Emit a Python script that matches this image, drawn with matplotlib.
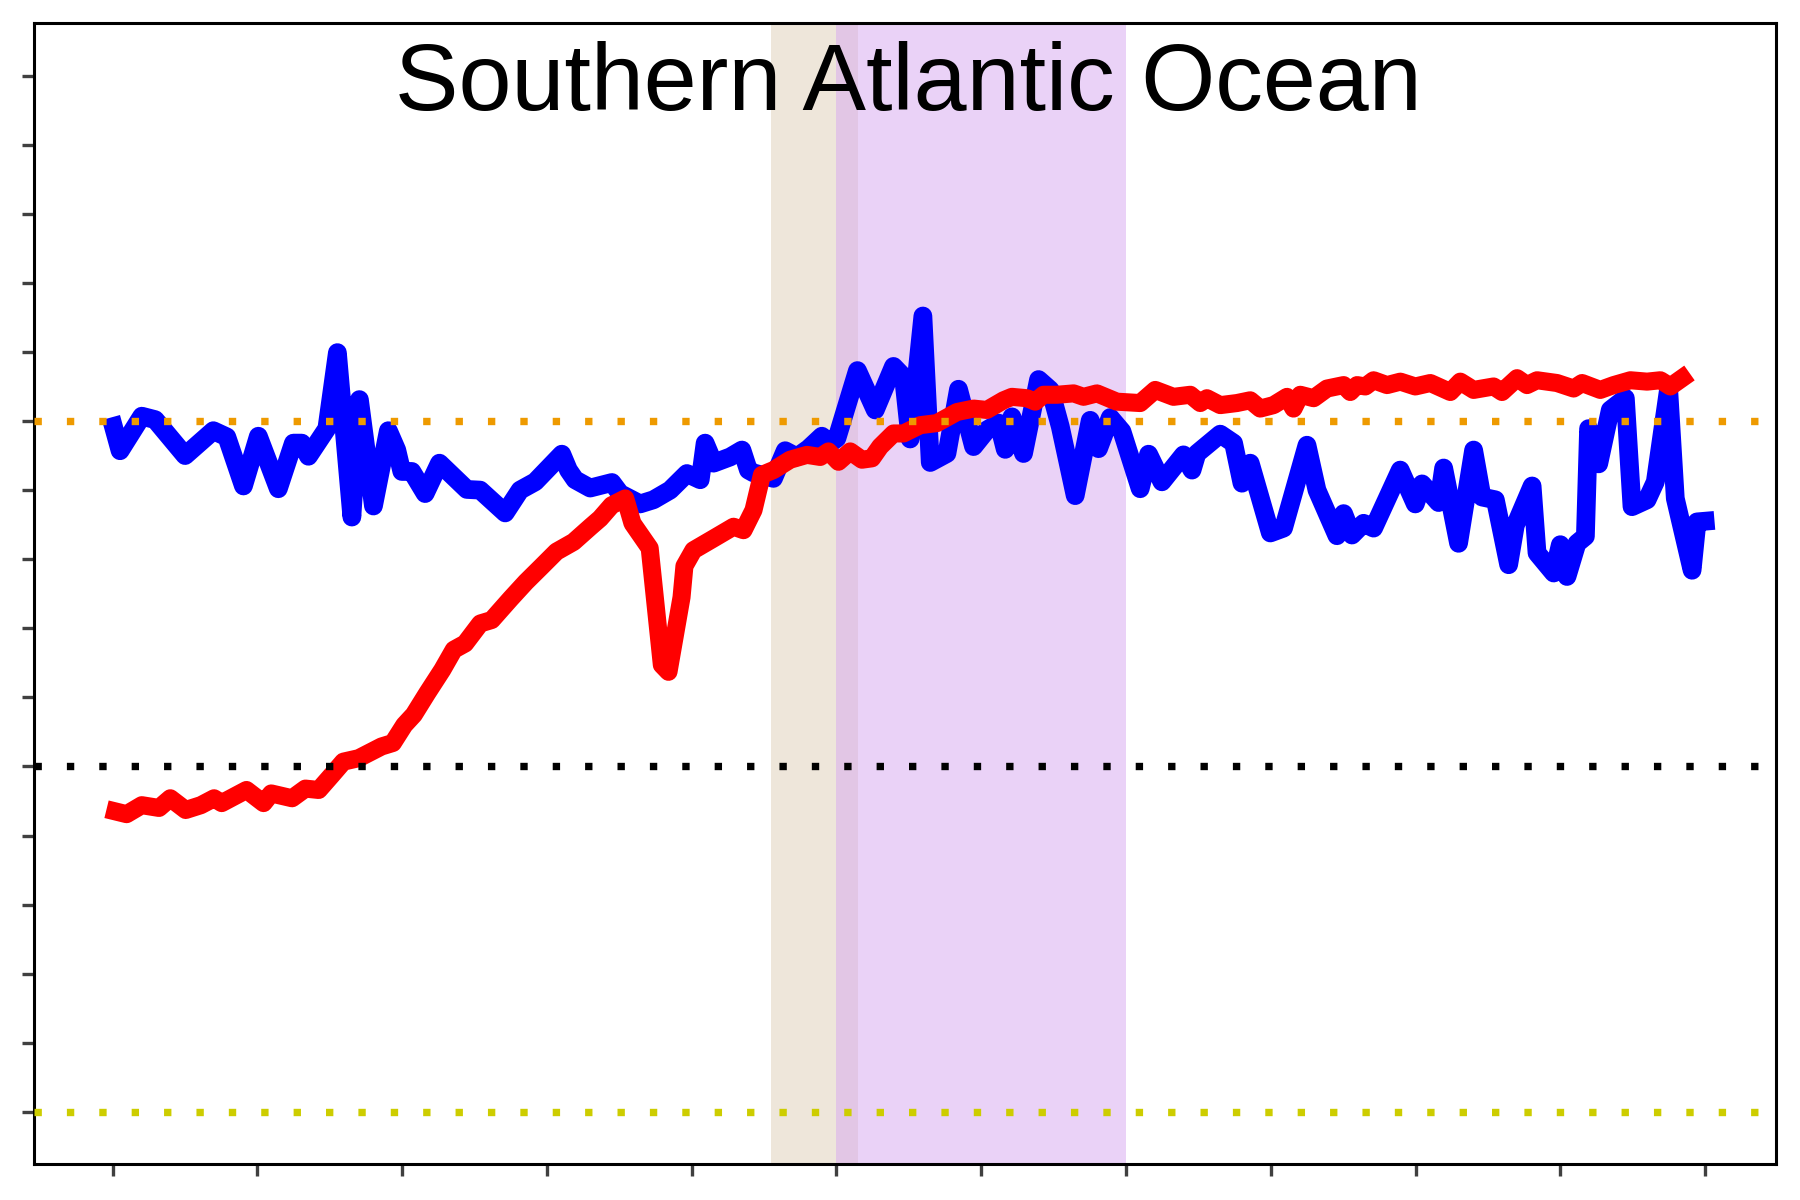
import matplotlib
matplotlib.use('Agg')
import matplotlib.pyplot as plt
import numpy as np

plt.rcParams['font.family'] = ['Liberation Sans', 'DejaVu Sans']

title = 'Southern Atlantic Ocean'

# blue series (x in tick units of 10, y in tick units)
blue_x = [0.06, 0.52, 2.02, 2.94, 5.01, 6.96, 7.89, 9.04, 10.07, 11.45, 12.49, 13.07, 13.53,
          14.80, 15.53, 16.53, 17.05, 18.02, 19.05, 19.63, 19.98, 20.67, 21.59, 22.58, 24.47,
          25.39, 27.12, 28.15, 29.19, 31.03, 31.49, 31.95, 32.99, 34.49, 35.06, 36.44, 37.36,
          38.51, 39.67, 40.59, 40.93, 41.51, 42.66, 43.47, 43.92, 44.27, 45.65, 46.46, 47.27,
          48.07, 48.99, 49.57, 50.03, 51.45, 52.68, 53.94, 54.63, 55.09, 55.97, 56.48, 57.63,
          58.43, 59.47, 60.39, 61.20, 61.66, 62.12, 62.92, 63.96, 64.77, 65.46, 66.49, 67.53,
          68.10, 68.91, 69.72, 70.98, 71.56, 72.48, 73.97, 74.56, 74.90, 76.51, 77.43, 78.01,
          78.58, 79.97, 80.88, 82.50, 83.19, 84.57, 85.03, 85.61, 86.41, 87.10, 88.94, 89.98,
          90.45, 91.59, 91.94, 92.97, 94.01, 94.59, 95.51, 96.43, 96.89, 98.05, 98.39, 99.54,
          100.00, 100.46, 101.15, 101.73, 101.95, 102.65, 103.45, 104.49, 104.95, 105.99,
          106.56, 107.48, 107.94, 109.10, 109.44, 110.0]
blue_y = [9.92, 9.57, 10.07, 10.02, 9.50, 9.86, 9.77, 9.06, 9.78, 9.02, 9.68, 9.68, 9.49,
          9.89, 10.99, 8.61, 10.31, 8.77, 9.86, 9.58, 9.27, 9.27, 8.95, 9.39, 9.01,
          9.00, 8.67, 9.00, 9.12, 9.52, 9.29, 9.15, 9.03, 9.11, 8.95, 8.80, 8.86,
          9.00, 9.24, 9.15, 9.68, 9.39, 9.48, 9.58, 9.29, 9.25, 9.17, 9.57, 9.48,
          9.60, 9.78, 9.68, 9.75, 10.73, 10.16, 10.79, 10.64, 9.74, 11.52, 9.40, 9.53,
          10.46, 9.63, 9.87, 9.97, 9.59, 10.06, 9.53, 10.60, 10.45, 9.92, 8.92, 10.01,
          9.60, 10.05, 9.85, 9.02, 9.52, 9.12, 9.51, 9.29, 9.53, 9.81, 9.68, 9.10,
          9.39, 8.38, 8.45, 9.65, 9.00, 8.34, 8.66, 8.35, 8.52, 8.45, 9.29, 8.80,
          9.09, 8.82, 9.32, 8.23, 9.58, 8.90, 8.86, 7.92, 8.49, 9.06, 8.09, 7.80,
          8.21, 7.75, 8.23, 8.33, 9.89, 9.38, 10.16, 10.33, 8.76, 8.86,
          9.12, 10.47, 8.88, 7.84, 8.54, 8.55]

# red series
red_x = [0.19, 0.97, 2.02, 3.21, 3.99, 5.05, 6.10, 7.01, 7.54, 9.25, 10.43, 10.96, 12.40,
         13.32, 14.24, 15.16, 15.94, 17.00, 18.58, 19.36, 20.15, 20.81, 21.73, 22.78, 23.57,
         24.35, 25.40, 26.19, 27.50, 28.55, 29.61, 30.66, 31.84, 33.02, 33.68, 34.47, 35.41,
         35.91, 37.10, 37.94, 38.40, 39.30, 39.50, 40.12, 41.51, 42.89, 43.58, 44.27, 44.85,
         45.65, 46.80, 47.96, 48.88, 49.45, 50.14, 50.95, 51.76, 52.45, 53.02, 53.94, 54.63,
         55.79, 56.94, 58.32, 59.47, 60.39, 61.54, 62.12, 63.16, 63.73, 64.30, 65.23, 66.38,
         67.07, 67.99, 69.37, 70.98, 72.02, 73.28, 74.44, 75.13, 75.59, 76.51, 77.66, 78.58,
         79.27, 80.19, 81.12, 81.57, 82.04, 82.96, 83.88, 85.03, 85.49, 85.96, 86.53, 87.10,
         88.03, 88.95, 89.98, 91.02, 92.40, 93.09, 94.01, 95.39, 95.97, 97.01, 97.70, 98.39,
         99.77, 100.92, 101.50, 102.76, 103.68, 104.84, 105.99, 106.91, 107.60, 108.41]
red_y = [4.35, 4.31, 4.44, 4.40, 4.54, 4.37, 4.44, 4.54, 4.47, 4.66, 4.47, 4.61, 4.54,
         4.68, 4.66, 4.88, 5.07, 5.12, 5.29, 5.34, 5.60, 5.75, 6.06, 6.40, 6.69,
         6.78, 7.07, 7.12, 7.43, 7.67, 7.89, 8.11, 8.25, 8.47, 8.59, 8.78, 8.88,
         8.52, 8.16, 6.47, 6.37, 7.45, 7.90, 8.13, 8.30, 8.47, 8.42, 8.71, 9.22,
         9.29, 9.44, 9.51, 9.48, 9.56, 9.41, 9.56, 9.44, 9.46, 9.63, 9.82, 9.82,
         9.94, 9.97, 10.13, 10.18, 10.16, 10.30, 10.35, 10.33, 10.28, 10.38, 10.38, 10.40,
         10.35, 10.40, 10.28, 10.26, 10.45, 10.35, 10.38, 10.26, 10.33, 10.23, 10.26, 10.30,
         10.18, 10.23, 10.35, 10.18, 10.38, 10.33, 10.47, 10.52, 10.42, 10.52, 10.50, 10.59,
         10.52, 10.57, 10.50, 10.55, 10.42, 10.57, 10.45, 10.50, 10.42, 10.62, 10.52, 10.59,
         10.55, 10.47, 10.55, 10.45, 10.52, 10.59, 10.57, 10.59, 10.50, 10.62]

# reference levels and shaded periods
ref_levels = [10, 5, 0]
ref_colors = ['#EE9A00', 'black', '#CDCD00']
spans = [(45.5, 51.5), (50, 70)]
span_colors = ['#DFCFB7', '#D7A7F1']

x_ticks = np.arange(0, 111, 10)
y_ticks = np.arange(0, 16, 1)

fig = plt.figure(figsize=(18, 12), dpi=100)
ax = fig.add_axes([0.0191, 0.0303, 0.9676, 0.9505])

for (a, b), c in zip(spans, span_colors):
    ax.axvspan(a, b, color=c, alpha=0.5, lw=0, zorder=1)

ax.plot(blue_x, blue_y, color='#0000FF', lw=13.5, zorder=3)
ax.plot(red_x, red_y, color='#FF0000', lw=13, zorder=4)

for lev, c in zip(ref_levels, ref_colors):
    ax.axhline(lev, color=c, lw=5.3, linestyle=(0, (1, 3.4)), zorder=5)

ax.set_xlim(-5.40, 114.9)
ax.set_ylim(-0.748, 15.76)
ax.set_xticks(x_ticks)
ax.set_yticks(y_ticks)
ax.set_xticklabels([])
ax.set_yticklabels([])
ax.tick_params(direction='out', length=8.5, width=2.4, color='#404040')
for s in ax.spines.values():
    s.set_linewidth(2.2)
    s.set_color('black')

ax.text(0.5016, 0.9237, title, transform=ax.transAxes, ha='center', va='baseline',
        fontsize=68.6, color='black', zorder=6)

plt.savefig('out.png', dpi=100)
